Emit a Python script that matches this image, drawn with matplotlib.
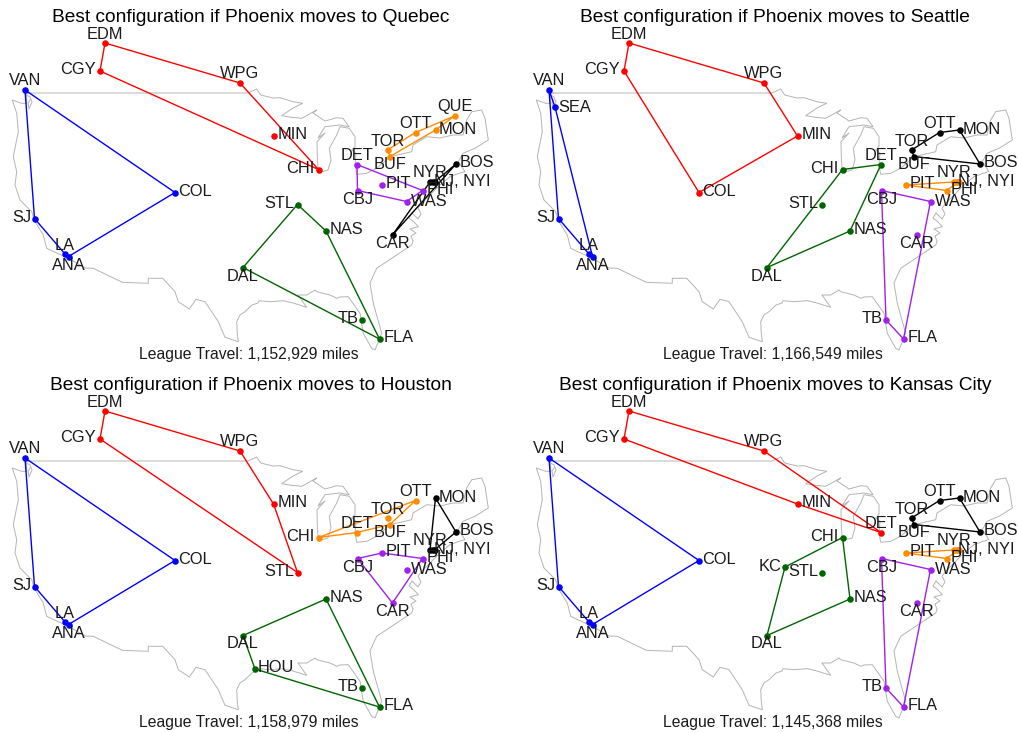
import matplotlib
matplotlib.use('Agg')
from matplotlib import pyplot as plt

plt.rcParams['font.family'] = ['Liberation Sans', 'DejaVu Sans']

# city positions, in map units of one panel
cities = ['VAN', 'SEA', 'EDM', 'CGY', 'WPG', 'MIN', 'CHI', 'COL', 'SJ', 'LA', 'ANA', 'STL', 'NAS', 'DAL',
          'TB', 'FLA', 'DET', 'CBJ', 'PIT', 'WAS', 'CAR', 'PHI', 'NYR', 'NYI', 'NJ', 'BOS', 'BUF', 'TOR',
          'OTT', 'MON', 'QUE', 'HOU', 'KC']
city_x = [25, 31, 105, 100, 240, 273.5, 318.5, 175, 34.5, 65, 68.5, 297.5, 326, 243,
          362, 379.5, 357, 357.5, 382, 406.5, 392.5, 422.5, 430, 433, 435, 456, 390, 387.5,
          415.5, 435.5, 454.5, 255, 261]
city_y = [90, 107, 43, 71, 83, 136, 169.5, 192.5, 218.5, 254, 256.5, 204.5, 231, 267.5,
          320, 339, 164.5, 190.5, 185, 201.5, 235, 190.5, 182, 182, 181.5, 164, 156.5, 150,
          132.5, 130, 116, 301, 199]

# coast and border outline
map_x = [29, 248, 256.7, 260.7, 273, 280, 293, 302.7, 293, 281.7, 291.7, 301.7, 316.7, 313, 325, 336.7, 343,
         349, 340, 325, 318, 325, 317, 317.3, 318, 321.7, 328, 331, 329.3, 336.7, 340, 349.3, 355, 355, 351.7,
         356, 355, 356.7, 366.7, 376.7, 390, 411.7, 413, 426.7, 440, 453, 463, 466.7, 471.7, 481.7, 485, 488.3,
         475, 463, 458.3, 465, 460, 450, 440, 430, 423.3, 418, 421, 418, 412, 409, 414, 418.3, 410, 416, 411, 413,
         411.7, 396.7, 376.7, 370, 373.3, 381.7, 375, 371.7, 363.3, 360, 348.3, 340, 336.7, 330, 316.7, 315, 306.7,
         298, 306.7, 293, 283.3, 270, 259, 258, 252, 245, 240, 236.7, 237.3, 238.3, 225, 218.3, 205, 196, 189.3,
         178.3, 175, 162.7, 148.3, 148.3, 122.3, 93.3, 85, 68, 56.7, 46.7, 43.3, 35, 31.7, 20, 15, 16.7, 13.3,
         18.3, 16.7, 12.3, 21.7, 26.7, 26.7, 29]
map_y = [93, 93, 89, 95, 98, 97.7, 101.7, 103.3, 108, 115.7, 117.3, 118.3, 110, 113, 121, 117.7, 118.3,
         126.7, 125, 126.7, 138, 133, 141.7, 156.7, 168, 171.7, 170, 160, 148.3, 135, 126.7, 128.3, 136.7, 146.7, 150,
         153.3, 165, 174.3, 173.3, 168.3, 156.7, 151.7, 145, 136.7, 138, 135, 135, 120, 111.7, 110, 118.3, 140,
         148.3, 153.3, 161.7, 171.7, 173, 176.7, 185, 195, 201.7, 208, 214, 219, 213, 218, 222, 226.7, 229, 233, 236, 241,
         245, 255, 268.3, 283, 303.3, 333.3, 350, 348.3, 333.3, 313.3, 296.7, 297, 298.3, 295, 291.7, 290, 295,
         295, 307.3, 303, 300.7, 301.7, 300.7, 303, 305, 311.7, 315, 321.7, 333.3, 341.7, 337.3, 321.7, 301.7, 299.3, 309,
         301.7, 291.7, 278.3, 278.3, 283.3, 282.3, 268.3, 268, 258, 253, 248.3, 235, 221.7, 211.7, 200, 185, 171.7, 156.7,
         131.7, 113.3, 100, 103.3, 103.3, 93.3, 93]
puget_x = [26.5, 30, 32, 29, 28, 30]
puget_y = [95, 97, 102, 109, 103, 100]

titles = ['Best configuration if Phoenix moves to Quebec',
          'Best configuration if Phoenix moves to Seattle',
          'Best configuration if Phoenix moves to Houston',
          'Best configuration if Phoenix moves to Kansas City']
miles = ['1,152,929', '1,166,549', '1,158,979', '1,145,368']

# each division: closed route, then the teams off the route
quebec = [('red', ['EDM', 'WPG', 'CHI', 'CGY'], ['MIN']),
          ('blue', ['VAN', 'COL', 'ANA', 'LA', 'SJ'], []),
          ('darkgreen', ['STL', 'NAS', 'FLA', 'DAL'], ['TB']),
          ('#A020F0', ['DET', 'PHI', 'WAS', 'CBJ'], ['PIT']),
          ('darkorange', ['TOR', 'OTT', 'QUE', 'MON', 'BUF'], []),
          ('black', ['CAR', 'BOS', 'NJ', 'NYI', 'NYR'], [])]
seattle = [('red', ['EDM', 'WPG', 'MIN', 'COL', 'CGY'], []),
           ('blue', ['VAN', 'SEA', 'ANA', 'LA', 'SJ'], []),
           ('darkgreen', ['CHI', 'DET', 'NAS', 'DAL'], ['STL']),
           ('#A020F0', ['CBJ', 'WAS', 'FLA', 'TB'], ['CAR']),
           ('darkorange', ['PIT', 'NYR', 'NYI', 'NJ', 'PHI'], []),
           ('black', ['TOR', 'OTT', 'MON', 'BOS', 'BUF'], [])]
houston = [('red', ['EDM', 'WPG', 'MIN', 'STL', 'CGY'], []),
           ('blue', ['VAN', 'COL', 'ANA', 'LA', 'SJ'], []),
           ('darkgreen', ['NAS', 'FLA', 'HOU', 'DAL'], ['TB']),
           ('#A020F0', ['CBJ', 'PIT', 'PHI', 'CAR'], ['WAS']),
           ('darkorange', ['CHI', 'DET', 'BUF', 'OTT'], ['TOR']),
           ('black', ['MON', 'BOS', 'NJ', 'NYI', 'NYR'], [])]
kansas = [('red', ['EDM', 'WPG', 'DET', 'MIN', 'CGY'], []),
          ('blue', ['VAN', 'COL', 'ANA', 'LA', 'SJ'], []),
          ('darkgreen', ['CHI', 'NAS', 'DAL', 'KC'], ['STL']),
          ('#A020F0', ['CBJ', 'WAS', 'FLA', 'TB'], ['CAR']),
          ('darkorange', ['PIT', 'NYR', 'NYI', 'NJ', 'PHI'], []),
          ('black', ['TOR', 'OTT', 'MON', 'BOS', 'BUF'], [])]
configs = [quebec, seattle, houston, kansas]

# label shift from the city, px
shift = {'VAN': (0, -9.5), 'SEA': (20, 0.5), 'EDM': (0, -8.5), 'CGY': (-22, -1.5), 'WPG': (0, -9.5), 'MIN': (19, -1.5),
         'CHI': (-18, -1), 'COL': (20, -0.5), 'SJ': (-12.5, -1), 'LA': (0, -8.5), 'ANA': (0, 8.5), 'STL': (-18, -0.5),
         'NAS': (20, -1.5), 'DAL': (0, 8.5), 'TB': (-14, -1.5), 'FLA': (19, -1.5), 'DET': (0, -9), 'CBJ': (0, 8.5),
         'PIT': (16, -1.5), 'WAS': (22.5, -0.5), 'CAR': (0, 8.5), 'PHI': (18, -1), 'NYR': (0, -9.5), 'BOS': (21, -1.5),
         'BUF': (0, 8), 'TOR': (0, -8.5), 'OTT': (0, -9), 'MON': (22, -0.5), 'QUE': (0, -9.5), 'HOU': (21, -1.5),
         'KC': (-15, -0.5)}

panels = [(0, 0), (524, 0), (0, 368), (524, 368)]
W, H = 494, 365

xy = {c: (x, y) for c, x, y in zip(cities, city_x, city_y)}

fig = plt.figure(figsize=(10.18, 7.33), dpi=100)
for (ox, oy), title, mi, config in zip(panels, titles, miles, configs):
    ax = fig.add_axes([ox / 1018, 1 - (oy + H) / 733, W / 1018, H / 733])
    ax.set_xlim(0, W)
    ax.set_ylim(H, 0)
    ax.axis('off')
    ax.plot(map_x, map_y, color='#b4b4b4', lw=0.7, zorder=1, clip_on=False)
    ax.plot(puget_x, puget_y, color='#b4b4b4', lw=0.7, zorder=1)

    for color, route, alone in config:
        loop = route + route[:1]
        ax.plot([xy[c][0] for c in loop], [xy[c][1] for c in loop], color=color, lw=1.0, zorder=2)
        teams = route + alone
        ax.plot([xy[c][0] for c in teams], [xy[c][1] for c in teams], ls='none', marker='o', ms=4.7,
                color=color, mew=0, zorder=3)
        for c in teams:
            if c in ('NJ', 'NYI'):
                continue
            dx, dy = shift[c]
            ax.text(xy[c][0] + dx, xy[c][1] + dy, c, ha='center', va='center', fontsize=11.8,
                    color='#1a1a1a', zorder=4)
    ax.text(462, 181.5, 'NJ, NYI', ha='center', va='center', fontsize=11.8, color='#1a1a1a', zorder=4, clip_on=False)

    ax.text(251, 17.5, title, ha='center', va='center', fontsize=13.8, color='black', zorder=4)
    ax.text(248.5, 354, 'League Travel: ' + mi + ' miles', ha='center', va='center', fontsize=11.3,
            color='#1a1a1a', zorder=4)

fig.savefig('out.png', dpi=100)
